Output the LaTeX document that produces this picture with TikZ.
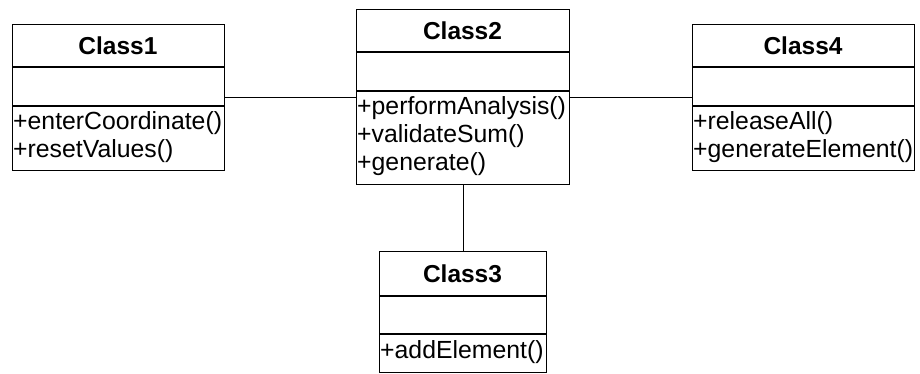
\documentclass[tikz,border=0pt]{standalone}
\usepackage{fontspec}
\setmainfont{Liberation Sans}
\begin{document}
\begin{tikzpicture}[x=1pt,y=-1pt,
  classbox/.style={draw, line width=1.4pt, inner sep=0pt, anchor=north west},
  part/.style={line width=1.4pt},
  link/.style={line width=0.9pt},
  title/.style={font=\fontsize{24.5}{27.6}\selectfont\bfseries, inner sep=0pt, anchor=base},
  member/.style={font=\fontsize{24.8}{27.6}\selectfont, inner sep=0pt, anchor=base west}]
\useasboundingbox (0,0) rectangle (920,374);

% Class1
\node[classbox, minimum width=212pt, minimum height=146pt] (c1) at (12,24) {};
\draw[part] (12,67) -- (224,67);
\draw[part] (12,106) -- (224,106);
\node[title] (c1t) at (118,54.5) {Class1};
\node[member] (c1m1) at (13,130) {+enterCoordinate()};
\node[member] (c1m2) at (13,157.6) {+resetValues()};

% Class2
\node[classbox, minimum width=213pt, minimum height=175pt] (c2) at (356,9) {};
\draw[part] (356,52) -- (569,52);
\draw[part] (356,91) -- (569,91);
\node[title] (c2t) at (462.5,39.5) {Class2};
\node[member] (c2m1) at (357,115) {+performAnalysis()};
\node[member] (c2m2) at (357,142.6) {+validateSum()};
\node[member] (c2m3) at (357,170.2) {+generate()};

% Class4
\node[classbox, minimum width=222pt, minimum height=146pt] (c4) at (692,24) {};
\draw[part] (692,67) -- (914,67);
\draw[part] (692,106) -- (914,106);
\node[title] (c4t) at (803,54.5) {Class4};
\node[member] (c4m1) at (693,130) {+releaseAll()};
\node[member] (c4m2) at (693,157.6) {+generateElement()};

% Class3
\node[classbox, minimum width=167pt, minimum height=121pt] (c3) at (379,251) {};
\draw[part] (379,296) -- (546,296);
\draw[part] (379,334) -- (546,334);
\node[title] (c3t) at (462.5,282.5) {Class3};
\node[member] (c3m1) at (380,358) {+addElement()};

% associations
\draw[link] (c1.east) -- (c1.east -| c2.west);
\draw[link] (c4.west) -- (c4.west -| c2.east);
\draw[link] (c2.south) -- (c3.north);
\end{tikzpicture}
\end{document}
